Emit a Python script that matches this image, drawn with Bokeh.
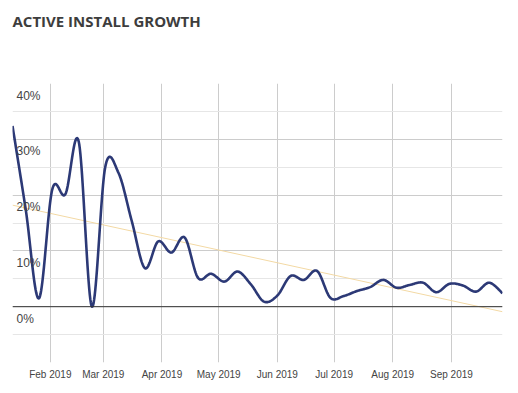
import numpy as np
import pandas as pd
from bokeh.plotting import figure
from bokeh.models import FixedTicker, Span, ColumnDataSource, Range1d, Title
from bokeh.core.properties import value
from bokeh.embed import file_html
from bokeh.resources import INLINE

# ---- data ----
start_date = "2019-01-12"
n_weeks = 38
growth = [32.4, 17.4, 1.5, 21.0, 20.2, 29.6, 0.0, 25.0, 24.0, 15.4,
          6.9, 11.7, 9.7, 12.4, 5.2, 5.9, 4.5, 6.3, 4.0, 0.9,
          2.0, 5.5, 4.8, 6.4, 1.6, 1.9, 2.8, 3.5, 4.8, 3.4,
          3.9, 4.3, 2.6, 4.1, 3.8, 2.7, 4.3, 2.4]
trend_values = [18.2, -0.9]          # trendline at first and last date
month_starts = ["2019-02-01", "2019-03-01", "2019-04-01", "2019-05-01",
                "2019-06-01", "2019-07-01", "2019-08-01", "2019-09-01"]
month_labels = ["Feb 2019", "Mar 2019", "Apr 2019", "May 2019",
                "Jun 2019", "Jul 2019", "Aug 2019", "Sep 2019"]
y_ticks = [40, 30, 20, 10, 0]
y_tick_labels = ["40%", "30%", "20%", "10%", "0%"]
y_major_grid = [-10, 0, 10, 20, 30, 40]
y_minor_grid = [-5, 5, 15, 25, 35]
y_min, y_max = -10, 40
title_text = "ACTIVE INSTALL GROWTH"

EPOCH = pd.Timestamp("1970-01-01")
dates = pd.date_range(start_date, periods=n_weeks, freq="7D")
x_ms = np.array([(d - EPOCH) / pd.Timedelta(milliseconds=1) for d in dates], dtype=float)
y = np.asarray(growth, dtype=float)
month_ms = [float((pd.Timestamp(m) - EPOCH) / pd.Timedelta(milliseconds=1)) for m in month_starts]


# smooth curve through the data points (Catmull-Rom)
def catmull_rom(xs, ys, steps=24):
    px = np.concatenate([[xs[0]], xs, [xs[-1]]])
    py = np.concatenate([[ys[0]], ys, [ys[-1]]])
    out_x, out_y = [], []
    t = np.linspace(0, 1, steps, endpoint=False)
    for i in range(1, len(px) - 2):
        x0, x1, x2, x3 = px[i - 1], px[i], px[i + 1], px[i + 2]
        y0, y1, y2, y3 = py[i - 1], py[i], py[i + 1], py[i + 2]
        mx1, mx2 = (x2 - x0) / 2, (x3 - x1) / 2
        my1, my2 = (y2 - y0) / 2, (y3 - y1) / 2
        h00 = 2 * t**3 - 3 * t**2 + 1
        h10 = t**3 - 2 * t**2 + t
        h01 = -2 * t**3 + 3 * t**2
        h11 = t**3 - t**2
        out_x.extend(h00 * x1 + h10 * mx1 + h01 * x2 + h11 * mx2)
        out_y.extend(h00 * y1 + h10 * my1 + h01 * y2 + h11 * my2)
    out_x.append(xs[-1])
    out_y.append(ys[-1])
    return np.array(out_x), np.array(out_y)


sx, sy = catmull_rom(x_ms, y)
trend_x = [x_ms[0], x_ms[-1]]

p = figure(width=510, height=388, x_axis_type="datetime",
           x_range=Range1d(x_ms[0], x_ms[-1]), y_range=Range1d(y_min, y_max),
           output_backend="svg", toolbar_location=None,
           min_border_left=12, min_border_right=8, min_border_top=83, min_border_bottom=26)
p.outline_line_color = None
p.background_fill_color = "white"
p.border_fill_color = "white"

# spacer between title and plot area
p.add_layout(Title(text=" ", text_font_size="10px", standoff=35), "above")

# title
p.title.text = title_text
p.title.text_font = "Open Sans"
p.title.text_font_style = "bold"
p.title.text_font_size = "15px"
p.title.text_color = "#3d3d3d"
p.title.align = "left"
p.title.standoff = 10

# grids
p.ygrid.ticker = FixedTicker(ticks=y_major_grid, minor_ticks=y_minor_grid)
p.ygrid.grid_line_color = "#cccccc"
p.ygrid.minor_grid_line_color = "#e6e6e6"
p.xgrid.ticker = FixedTicker(ticks=month_ms)
p.xgrid.grid_line_color = "#cccccc"

# axes
p.yaxis.visible = False
p.xaxis.ticker = FixedTicker(ticks=month_ms)
p.xaxis.major_label_overrides = {m: l for m, l in zip(month_ms, month_labels)}
p.xaxis.axis_line_color = None
p.xaxis.major_tick_line_color = None
p.xaxis.minor_tick_line_color = None
p.xaxis.major_tick_out = 0
p.xaxis.major_tick_in = 0
p.xaxis.minor_tick_out = 0
p.xaxis.minor_tick_in = 0
p.xaxis.major_label_standoff = 6
p.xaxis.major_label_text_font = "Liberation Sans"
p.xaxis.major_label_text_font_size = "10px"
p.xaxis.major_label_text_color = "#444444"

# baseline at 0
p.add_layout(Span(location=0, dimension="width", line_color="#333333", line_width=1))

# trendline
p.line(trend_x, trend_values, line_color="#f3d9a4", line_width=1)

# data curve
p.line(sx, sy, line_color="#2c3976", line_width=2.6, line_join="round")

# y tick labels inside the plot
lab_src = ColumnDataSource(dict(x=[x_ms[0]] * len(y_ticks), y=y_ticks, t=y_tick_labels))
p.text(x="x", y="y", text="t", source=lab_src, x_offset=4, y_offset=5,
       text_baseline="top", text_align="left", text_font=value("Liberation Sans"),
       text_font_size="12px", text_color="#444444")

open("out.html", "w").write(file_html(p, INLINE))
